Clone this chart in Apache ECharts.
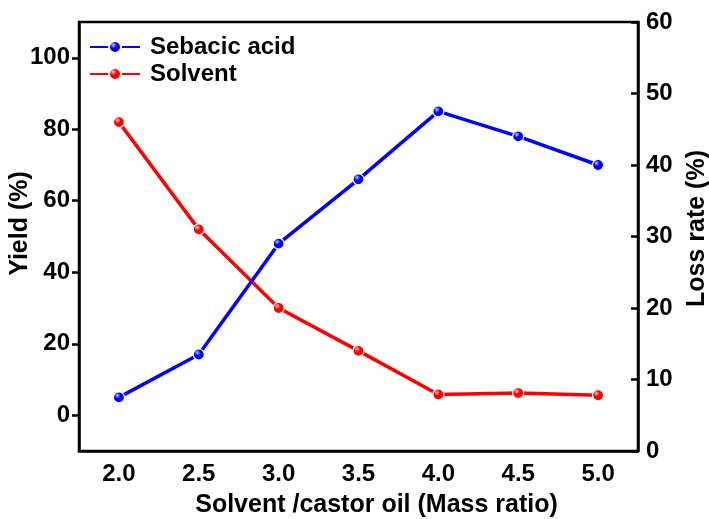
<!DOCTYPE html>
<html>
<head>
<meta charset="utf-8">
<script src="https://cdn.jsdelivr.net/npm/echarts@6/dist/echarts.min.js"></script>
<style>html,body{margin:0;padding:0;background:#fff}#c{width:709px;height:519px}</style>
</head>
<body>
<div id="c"></div>
<script>
var categories = ['2.0','2.5','3.0','3.5','4.0','4.5','5.0'];
var sebacicYield = [5, 17, 48, 66, 85, 78, 70];
var solventLoss = [46, 31, 20, 14, 7.9, 8.1, 7.8];
var yieldTicks = [0, 20, 40, 60, 80, 100];
var lossTicks = [0, 10, 20, 30, 40, 50, 60];

var FONT = 'Liberation Sans, Arial, sans-serif';
function ball(c, light) {
  return {type:'radial', x:0.38, y:0.35, r:0.7, colorStops:[{offset:0,color:light},{offset:0.35,color:c},{offset:1,color:c}]};
}
var chart = echarts.init(document.getElementById('c'));
var lbl = {color:'#000', fontFamily:FONT, fontWeight:'bold', fontSize:24};
function nm(pad) { return {color:'#000', fontFamily:FONT, fontWeight:'bold', fontSize:25, padding:pad}; }
chart.setOption({
  animation:false,
  grid:{left:79, right:71, top:22, bottom:68, show:true, borderColor:'#000', borderWidth:2.5, backgroundColor:'transparent', outerBoundsMode:'none', containLabel:false},
  legend:{
    left:84, top:30, orient:'vertical', itemGap:3, itemWidth:50, itemHeight:15,
    textStyle:{color:'#000', fontFamily:FONT, fontWeight:'bold', fontSize:24, padding:[0,0,0,5], lineHeight:24},
    data:['Sebacic acid','Solvent']
  },
  xAxis:{
    type:'category', data:categories, boundaryGap:true,
    axisLine:{onZero:false, lineStyle:{color:'#000', width:2.5}},
    axisTick:{inside:true, length:7, alignWithLabel:true, lineStyle:{color:'#000', width:2.5}},
    axisLabel:Object.assign({margin:11}, lbl),
    splitLine:{show:false},
    name:'Solvent /castor oil (Mass ratio)', nameLocation:'middle', nameGap:42, nameMoveOverlap:false,
    nameTextStyle:nm([0,0,0,36])
  },
  yAxis:[{
    type:'value', min:-10, max:110, position:'left',
    axisLine:{show:true, lineStyle:{color:'#000', width:2.5}},
    axisTick:{show:true, inside:false, length:7, customValues:yieldTicks, lineStyle:{color:'#000', width:2.5}},
    axisLabel:Object.assign({margin:9, customValues:yieldTicks}, lbl),
    splitLine:{show:false},
    name:'Yield (%)', nameLocation:'middle', nameGap:46, nameRotate:90, nameMoveOverlap:false,
    nameTextStyle:nm([0,0,0,26])
  },{
    type:'value', min:0, max:60, interval:10, position:'right',
    axisLine:{show:true, lineStyle:{color:'#000', width:2.5}},
    axisTick:{show:true, inside:true, length:7, customValues:lossTicks, lineStyle:{color:'#000', width:2.5}},
    axisLabel:Object.assign({margin:8, customValues:lossTicks}, lbl),
    splitLine:{show:false},
    name:'Loss rate (%)', nameLocation:'middle', nameGap:47, nameRotate:90, nameMoveOverlap:false,
    nameTextStyle:nm([0,0,0,16])
  }],
  series:[{
    name:'Sebacic acid', type:'line', yAxisIndex:0, data:sebacicYield,
    symbol:'circle', symbolSize:11,
    lineStyle:{color:'#0000ff', width:3.5},
    itemStyle:{color:ball('#0000ff','#c8c8ff'), borderColor:'#fff', borderWidth:1.2},
    z:3
  },{
    name:'Solvent', type:'line', yAxisIndex:1, data:solventLoss,
    symbol:'circle', symbolSize:11,
    lineStyle:{color:'#ff0000', width:3.5},
    itemStyle:{color:ball('#ff0000','#ffd0d0'), borderColor:'#fff', borderWidth:1.2},
    z:2
  }]
});
</script>
</body>
</html>
